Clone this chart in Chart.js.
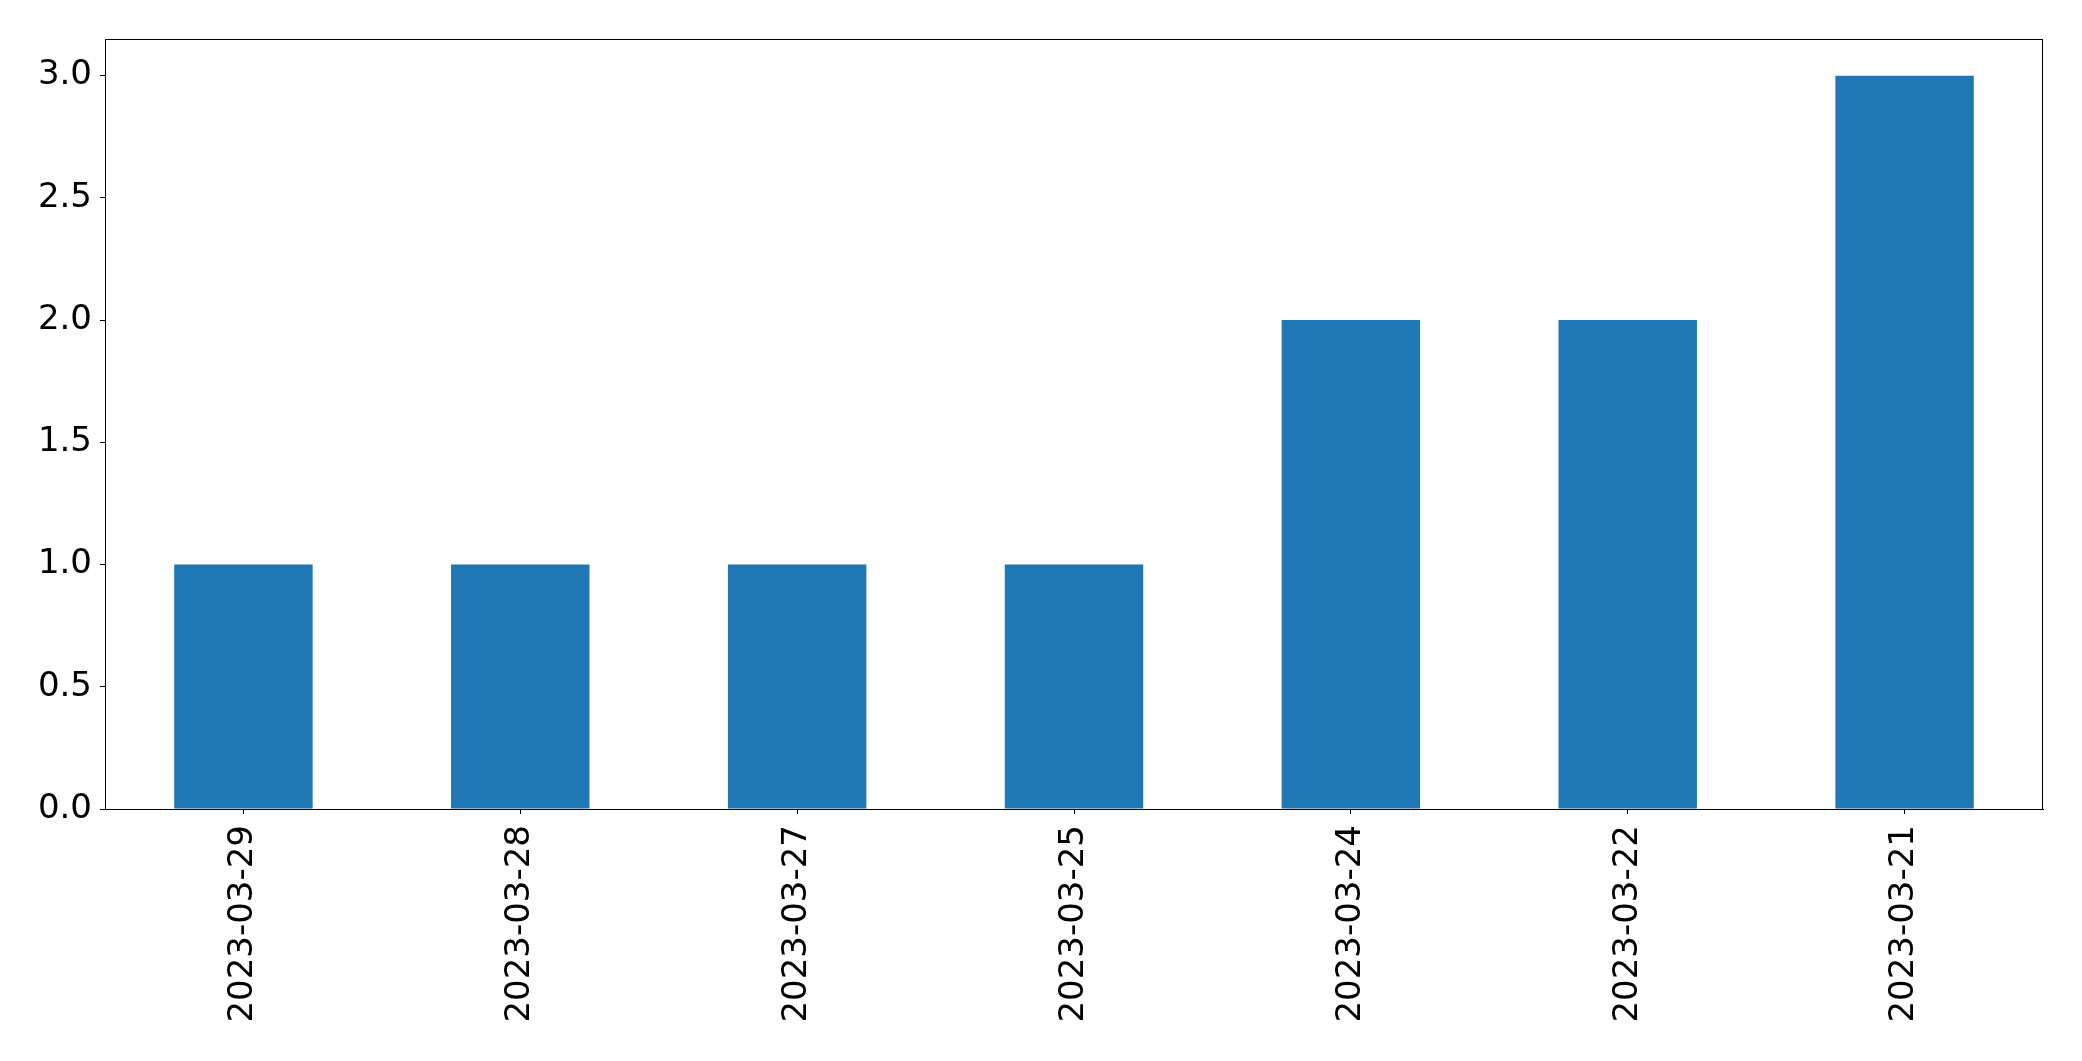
<!DOCTYPE html>
<html>

<head>
    <meta charset='UTF-8'>
    <title></title>
    <style>
        body {
            margin: 0;
            background: #fff;
        }
    </style>
</head>

<body>
    <script src="https://cdn.jsdelivr.net/npm/chart.js@4/dist/chart.umd.min.js"></script>
    <canvas id="chart" width="2082" height="1061"></canvas>

    <script>
        // data
        let dates = ["2023-03-29", "2023-03-28", "2023-03-27", "2023-03-25", "2023-03-24", "2023-03-22", "2023-03-21"];
        let counts = [1, 1, 1, 1, 2, 2, 3];
        let yTicks = [0, 0.5, 1, 1.5, 2, 2.5, 3];

        let tickFont = { family: "DejaVu Sans", size: 34 };

        // matplotlib style box around the plot area
        let frame = {
            id: "frame",
            afterDraw(chart) {
                let a = chart.chartArea;
                let ctx = chart.ctx;
                ctx.save();
                ctx.strokeStyle = "#000";
                ctx.lineWidth = 1;
                ctx.strokeRect(a.left + 0.5, a.top + 0.5, a.right - a.left - 1, a.bottom - a.top);
                ctx.restore();
            }
        };

        let context = document.getElementById("chart").getContext("2d");
        let chart = new Chart(context, {
            type: "bar",
            data: {
                labels: dates,
                datasets: [{
                    data: counts,
                    backgroundColor: "#1f77b4",
                    borderWidth: 0,
                    barPercentage: 0.5,
                    categoryPercentage: 1
                }]
            },
            options: {
                responsive: false,
                animation: false,
                events: [],
                layout: { padding: { top: 39, right: 39, left: 0, bottom: 0 } },
                plugins: {
                    legend: { display: false },
                    tooltip: { enabled: false }
                },
                scales: {
                    x: {
                        offset: true,
                        grid: { drawOnChartArea: false, tickLength: 5, tickColor: "#000", offset: false },
                        border: { color: "#000", width: 1 },
                        ticks: {
                            color: "#000",
                            font: tickFont,
                            minRotation: 90,
                            maxRotation: 90,
                            padding: 11,
                            autoSkip: false
                        },
                        afterFit: function(s) { s.height = 252; }
                    },
                    y: {
                        min: 0,
                        max: 3.15,
                        grid: { drawOnChartArea: false, tickLength: 5, tickColor: "#000" },
                        border: { color: "#000", width: 1 },
                        afterBuildTicks: function(s) {
                            s.ticks = yTicks.map(function(v) { return { value: v }; });
                        },
                        ticks: {
                            color: "#000",
                            font: tickFont,
                            padding: 8,
                            callback: function(v) { return v.toFixed(1); }
                        },
                        afterFit: function(s) { s.width = 105; }
                    }
                }
            },
            plugins: [frame]
        });
    </script>

</body>

</html>
